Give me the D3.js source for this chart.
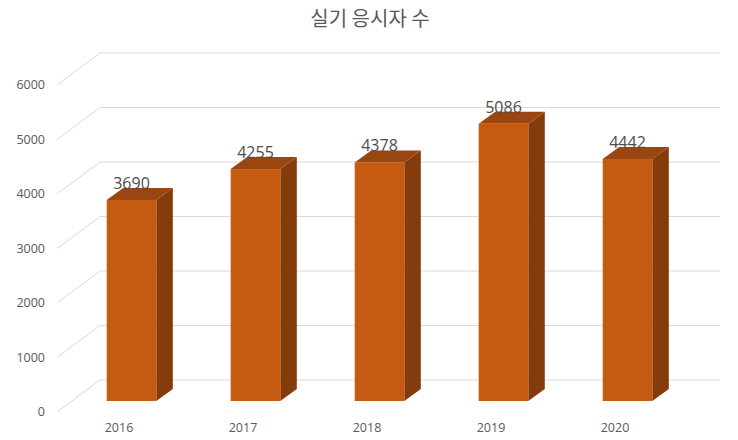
<!DOCTYPE html>
<html>
<head>
<meta charset="utf-8">
<script src="https://cdn.jsdelivr.net/npm/d3@7"></script>
<style>
  body { margin: 0; background: #fff; }
  text { font-family: "Open Sans", "Noto Sans", sans-serif; }
  text.title { font-family: "Noto Sans CJK KR", sans-serif; }
</style>
</head>
<body>
<svg id="chart" width="738" height="440"></svg>
<script>
// chart data
const years = ['2016', '2017', '2018', '2019', '2020'];
const applicants = [3690, 4255, 4378, 5086, 4442];
const yTicks = [0, 1000, 2000, 3000, 4000, 5000, 6000];
const chartTitle = '실기 응시자 수';

const svg = d3.select('#chart');

// front edge of the floor, and the depth offset to the back wall
let plot = {left: 57, right: 677, top: 85, bottom: 412};
let wall = {dx: 43, dy: -32};
// bar sits part way into the depth
let barFront = {dx: 12.5, dy: -11};
let barBack = {dx: 29, dy: -23};

let x = d3.scaleBand()
  .domain(years)
  .range([plot.left, plot.right]);

let y = d3.scaleLinear()
  .domain([0, 6000])
  .range([plot.bottom, plot.top]);

let barW = x.bandwidth() * 0.4;

// gridlines: diagonal on the side wall and flat along the back wall
let grid = svg.append('g').attr('class', 'grid');
yTicks.forEach(function(t) {
  grid.append('path')
    .attr('d', 'M' + plot.left + ',' + y(t) +
      'L' + (plot.left + wall.dx) + ',' + (y(t) + wall.dy) +
      'L' + (plot.right + wall.dx) + ',' + (y(t) + wall.dy))
    .attr('fill', 'none')
    .attr('stroke', '#d9d9d9')
    .attr('stroke-width', 1);
});

// y tick labels
svg.append('g')
  .selectAll('text')
  .data(yTicks)
  .enter().append('text')
    .attr('x', 45)
    .attr('y', d => y(d))
    .attr('dy', '0.35em')
    .attr('text-anchor', 'end')
    .attr('font-size', 12.5)
    .attr('fill', '#595959')
    .text(d => d);

// bars, each drawn as front, top and side faces
let bars = svg.append('g')
  .selectAll('g')
  .data(years.map((yr, i) => ({year: yr, value: applicants[i]})))
  .enter().append('g');

function fx(d) { return x(d.year) + x.bandwidth() / 2 - barW / 2; }

bars.append('path') // side
  .attr('fill', '#843c0c')
  .attr('d', function(d) {
    let x1 = fx(d) + barW;
    return 'M' + (x1 + barFront.dx) + ',' + (y(d.value) + barFront.dy) +
      'L' + (x1 + barBack.dx) + ',' + (y(d.value) + barBack.dy) +
      'L' + (x1 + barBack.dx) + ',' + (y(0) + barBack.dy) +
      'L' + (x1 + barFront.dx) + ',' + (y(0) + barFront.dy) + 'Z';
  });

bars.append('path') // top
  .attr('fill', '#9a4610')
  .attr('d', function(d) {
    let x0 = fx(d), x1 = x0 + barW, yt = y(d.value);
    return 'M' + (x0 + barFront.dx) + ',' + (yt + barFront.dy) +
      'L' + (x0 + barBack.dx) + ',' + (yt + barBack.dy) +
      'L' + (x1 + barBack.dx) + ',' + (yt + barBack.dy) +
      'L' + (x1 + barFront.dx) + ',' + (yt + barFront.dy) + 'Z';
  });

bars.append('rect') // front
  .attr('fill', '#c55a11')
  .attr('x', d => fx(d) + barFront.dx)
  .attr('y', d => y(d.value) + barFront.dy)
  .attr('width', barW)
  .attr('height', d => y(0) - y(d.value));

// value labels
bars.append('text')
  .attr('x', d => fx(d) + barFront.dx + barW / 2)
  .attr('y', d => y(d.value) + barBack.dy + 1)
  .attr('text-anchor', 'middle')
  .attr('font-size', 16)
  .attr('fill', '#4d4d4d')
  .text(d => d.value);

// category labels
svg.append('g')
  .selectAll('text')
  .data(years)
  .enter().append('text')
    .attr('x', d => x(d) + x.bandwidth() / 2)
    .attr('y', 432)
    .attr('text-anchor', 'middle')
    .attr('font-size', 12.5)
    .attr('fill', '#595959')
    .text(d => d);

// title
svg.append('text')
  .attr('class', 'title')
  .attr('x', 370)
  .attr('y', 26)
  .attr('text-anchor', 'middle')
  .attr('font-size', 20)
  .attr('fill', '#595959')
  .text(chartTitle);
</script>
</body>
</html>
